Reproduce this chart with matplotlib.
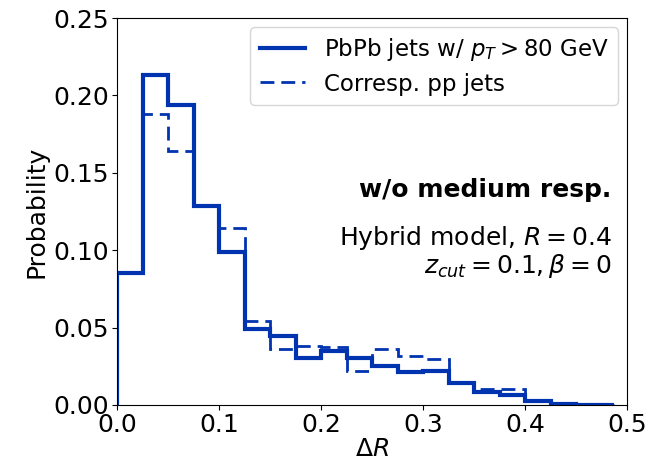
import numpy as np
import matplotlib
matplotlib.use("Agg")
import matplotlib.pyplot as plt

bin_edges = [0.0, 0.025, 0.05, 0.075, 0.1, 0.125, 0.15, 0.175, 0.2, 0.225, 0.25,
             0.275, 0.3, 0.325, 0.35, 0.375, 0.4, 0.425, 0.45, 0.475, 0.4875]
pbpb = [0.085, 0.213, 0.194, 0.1285, 0.0986, 0.049, 0.0446, 0.0302, 0.0351, 0.0306,
        0.0249, 0.021, 0.0217, 0.0142, 0.0082, 0.0063, 0.0028, 0.0008, 0.0, 0.0]
pp = [0.085, 0.188, 0.164, 0.1285, 0.1146, 0.0544, 0.0362, 0.0383, 0.0373, 0.0217,
      0.0362, 0.0317, 0.0298, 0.0142, 0.0104, 0.0104, 0.0032, 0.0008, 0.0, 0.0]

color = '#0033b0'

fig = plt.figure(figsize=(6.51, 4.67), dpi=100)
ax = fig.add_axes([117/651, 1-405/467, 510/651, 387/467])

ax.stairs(pbpb, bin_edges, color=color, lw=3, label=r'PbPb jets w/ $p_T > 80$ GeV')
ax.stairs(pp, bin_edges, color=color, lw=2, ls=(0, (5, 2.5)), label='Corresp. pp jets')

ax.set_xlim(0, 0.5)
ax.set_ylim(0, 0.25)
ax.set_xticks([0.0, 0.1, 0.2, 0.3, 0.4, 0.5])
ax.set_yticks([0.0, 0.05, 0.10, 0.15, 0.20, 0.25])
ax.set_yticklabels(['0.00', '0.05', '0.10', '0.15', '0.20', '0.25'])
ax.tick_params(labelsize=18, pad=2)
ax.set_xlabel(r'$\Delta R$', fontsize=18, labelpad=0)
ax.set_ylabel('Probability', fontsize=18, labelpad=4)

ax.legend(loc='upper right', fontsize=16.5, handlelength=2.0, borderaxespad=0.4,
          labelspacing=0.4)

ax.text(0.97, 0.556, 'w/o medium resp.', transform=ax.transAxes, ha='right',
        va='center', fontsize=18, fontweight='bold')
ax.text(0.97, 0.432, r'Hybrid model, $R = 0.4$', transform=ax.transAxes, ha='right',
        va='center', fontsize=18)
ax.text(0.97, 0.36, r'$z_{cut} = 0.1, \beta = 0$', transform=ax.transAxes, ha='right',
        va='center', fontsize=18)

fig.savefig('out.png', dpi=100)
